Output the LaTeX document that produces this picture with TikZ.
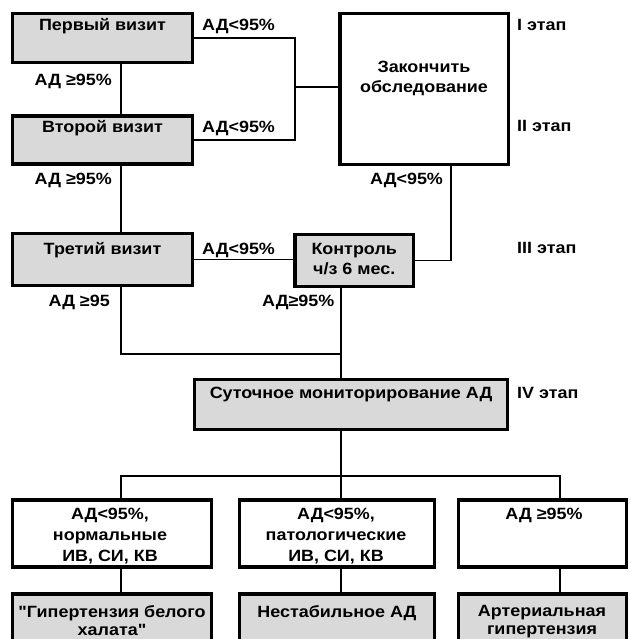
\documentclass[tikz,border=0pt]{standalone}
\usepackage{fontspec}
\setmainfont{Liberation Sans}[FakeStretch=1.1, Ligatures=TeXOff]
\begin{document}
\begin{tikzpicture}[x=1pt,y=-1pt,
  box/.style={draw, line width=3.4pt, inner sep=0},
  gbox/.style={box, fill=black!15},
  wbox/.style={box, fill=white},
  txt/.style={font=\fontsize{16.3}{20}\selectfont\bfseries, inner sep=0, align=center},
  txtw/.style={txt, font=\fontsize{16.3}{21}\selectfont\bfseries},
  txtn/.style={txt, font=\fontsize{16.3}{18}\selectfont\bfseries},
  con/.style={line width=1.6pt}]
\useasboundingbox (0,0) rectangle (630,639);
\clip (0,0) rectangle (630,639);
\fill[white] (0,0) rectangle (630,639);
% boxes
\node[gbox, minimum width=180, minimum height=49] (v1) at (102.5,38) {};
\node[gbox, minimum width=180, minimum height=48] (v2) at (102.5,140) {};
\node[gbox, minimum width=180, minimum height=52] (v3) at (102.5,259.5) {};
\node[gbox, minimum width=118.5, minimum height=52] (ctrl) at (354.2,260.5) {};
\node[wbox, minimum width=168.5, minimum height=151] (fin) at (424.2,88.8) {};
\node[gbox, minimum width=312.5, minimum height=50] (mon) at (351,404.5) {};
\node[wbox, minimum width=199, minimum height=67] (r1a) at (112,533.5) {};
\node[wbox, minimum width=195, minimum height=67] (r1b) at (337,533.5) {};
\node[wbox, minimum width=168, minimum height=67] (r1c) at (542.5,533.5) {};
\node[gbox, minimum width=199, minimum height=66] (r2a) at (112,627) {};
\node[gbox, minimum width=195, minimum height=66] (r2b) at (337,627) {};
\node[gbox, minimum width=168, minimum height=66] (r2c) at (542.5,627) {};
% helper coordinates
\coordinate (cA) at (121,0);
\coordinate (cB) at (451,0);
\coordinate (cC) at (560,0);
\coordinate (cR) at (295,87);
\coordinate (cJ) at (341,354);
\coordinate (cH) at (341,476);
% connectors
\draw[con] (v1.east) -| (cR) |- (v2.east);
\draw[con] (cR) -- (cR -| fin.west);
\draw[con] (v1.south -| cA) -- (v2.north -| cA);
\draw[con] (v2.south -| cA) -- (v3.north -| cA);
\draw[con] (v3.east) -- (v3.east -| ctrl.west);
\draw[con] (fin.south -| cB) |- (ctrl.east);
\draw[con] (v3.south -| cA) |- (cJ);
\draw[con] (ctrl.south -| cJ) -- (mon.north -| cJ);
\draw[con] (mon.south -| cH) -- (cH);
\draw[con] (r1a.north -| cA) |- (cH);
\draw[con] (cH) -| (r1c.north -| cC);
\draw[con] (cH) -- (r1b.north -| cH);
\draw[con] (r1a.south -| cA) -- (r2a.north -| cA);
\draw[con] (r1b.south -| cH) -- (r2b.north -| cH);
\draw[con] (r1c.south -| cC) -- (r2c.north -| cC);
% box texts (anchor=base is the baseline of the last line)
\node[txt, anchor=base] (t1) at (102.5,31) {Первый визит};
\node[txt, anchor=base] (t2) at (102.5,133) {Второй визит};
\node[txt, anchor=base] (t3) at (102.5,254) {Третий визит};
\node[txt, anchor=base] (tc) at (354.2,274) {Контроль\\ч/з 6 мес.};
\node[txt, anchor=base] (tf) at (424,93) {Закончить\\обследование};
\node[txt, anchor=base] (tm) at (351,398) {Суточное мониторирование АД};
\node[txtw, anchor=base] (ta) at (110,561) {АД<95\%,\\нормальные\\ИВ, СИ, КВ};
\node[txtw, anchor=base] (tb) at (336,561) {АД<95\%,\\патологические\\ИВ, СИ, КВ};
\node[txt, anchor=base] (tcc) at (544,519) {АД ≥95\%};
\node[txtn, anchor=base] (ua) at (112,635) {"Гипертензия белого\\халата"};
\node[txt, anchor=base] (ub) at (337,617) {Нестабильное АД};
\node[txtn, anchor=base] (uc) at (542,634) {Артериальная\\гипертензия};
% condition labels
\node[txt, anchor=base west] (l1) at (202,31) {АД<95\%};
\node[txt, anchor=base west] (l2) at (202,133) {АД<95\%};
\node[txt, anchor=base east] (l3) at (112,86) {АД ≥95\%};
\node[txt, anchor=base east] (l4) at (112,184) {АД ≥95\%};
\node[txt, anchor=base west] (l5) at (202,254) {АД<95\%};
\node[txt, anchor=base east] (l6) at (110,306) {АД ≥95};
\node[txt, anchor=base west] (l7) at (262,306) {АД≥95\%};
\node[txt, anchor=base west] (l8) at (370,185) {АД<95\%};
% stages
\node[txt, anchor=base west] (s1) at (517,31) {I этап};
\node[txt, anchor=base west] (s2) at (517,132) {II этап};
\node[txt, anchor=base west] (s3) at (517,253) {III этап};
\node[txt, anchor=base west] (s4) at (517,398) {IV этап};
\end{tikzpicture}
\end{document}
